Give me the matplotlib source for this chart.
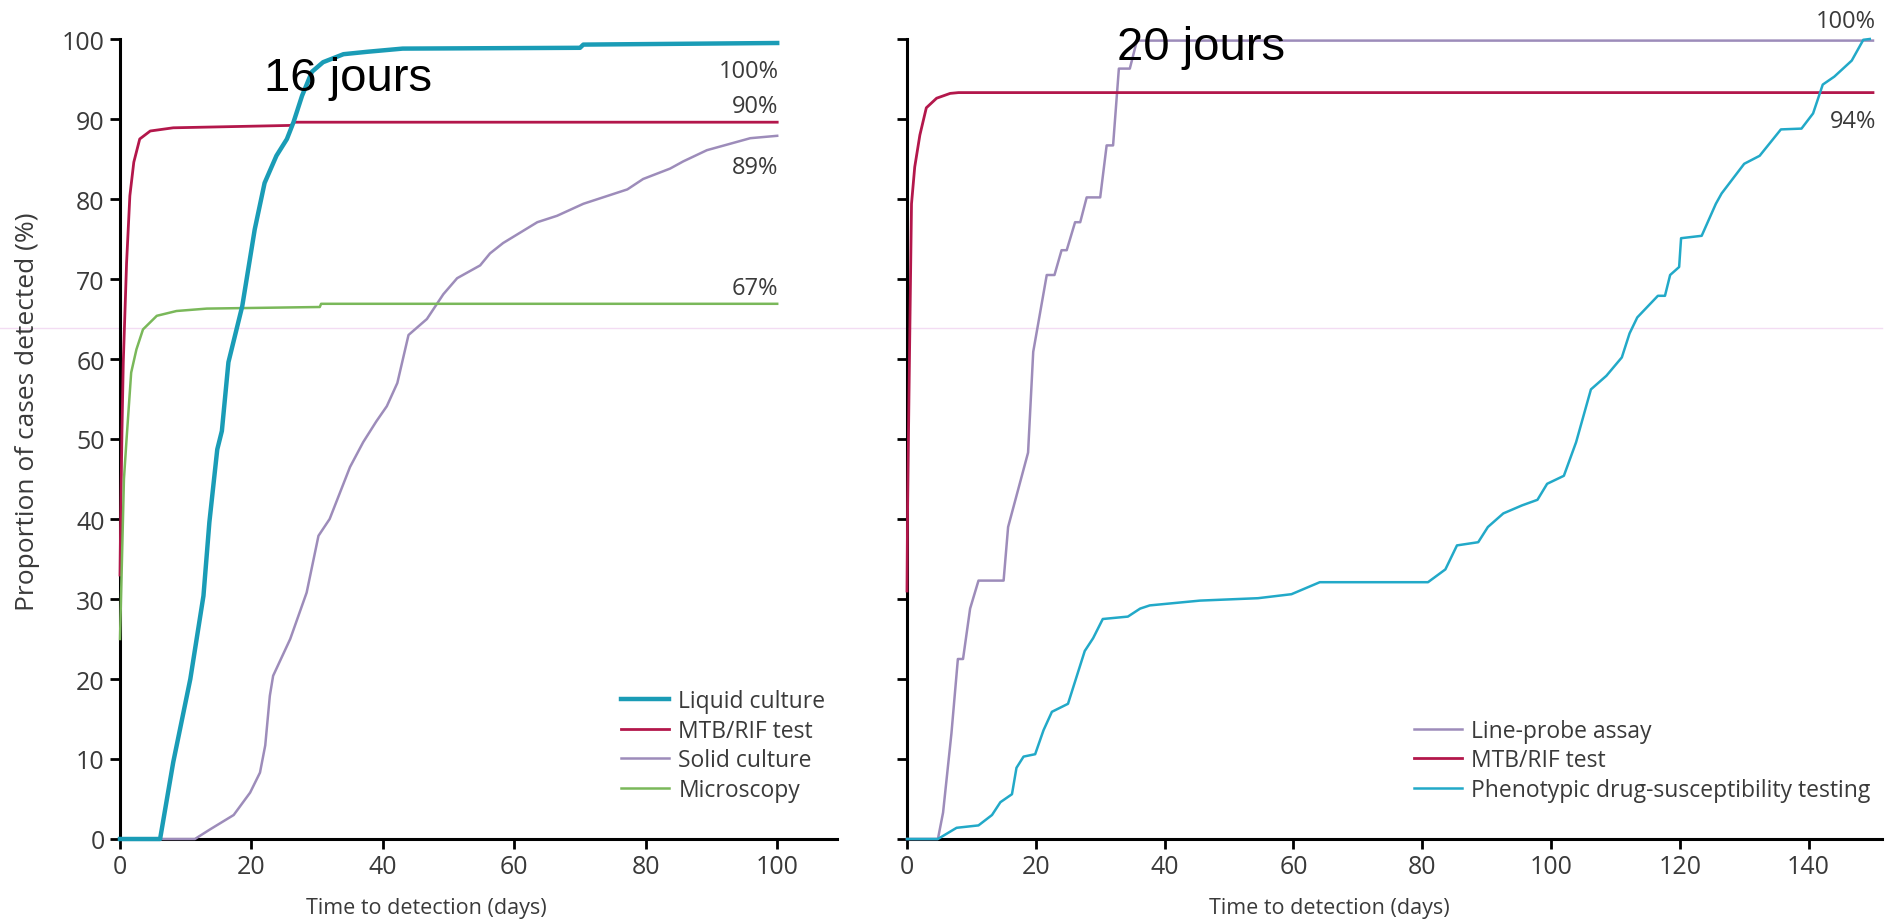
import matplotlib.pyplot as plt
from matplotlib.lines import Line2D

plt.rcParams['font.family'] = ['Open Sans', 'DejaVu Sans']

# --- left panel: detection of TB cases ---
liquid_days = [0, 6.1, 8.1, 10.7, 12.7, 13.6, 14.8, 15.5, 16.5, 18.6, 20.5, 22, 23.8, 25.4,
               26.4, 27.7, 29.2, 30.9, 34, 37.6, 43, 70, 70.5, 100]
liquid_pct = [0, 0, 9.6, 20, 30.4, 39.6, 48.7, 51, 59.6, 66.6, 76.2, 82, 85.4, 87.5,
              89.6, 92.9, 95.9, 97.1, 98.1, 98.4, 98.8, 98.9, 99.3, 99.5]

mtb_left_days = [0, 0.1, 0.3, 0.5, 1.0, 1.5, 2.1, 3.0, 4.6, 8.1, 26, 26.5, 100]
mtb_left_pct = [33, 40, 51, 59.6, 72, 80.4, 84.6, 87.5, 88.5, 88.9, 89.2, 89.6, 89.6]

solid_days = [0, 11.4, 13.7, 16.3, 17.3, 19.8, 21.3, 22.1, 22.8, 23.3, 25.9, 28.4, 30.2,
              31.9, 35, 37, 39, 40.6, 42.2, 43.9, 46.7, 49.2, 51.3, 54.8, 56.3, 58.3,
              63.5, 66.5, 70.5, 77.2, 79.6, 83.7, 85.7, 89.3, 95.9, 100]
solid_pct = [0, 0, 1.2, 2.5, 3, 5.8, 8.3, 11.7, 17.9, 20.4, 25, 30.8, 37.9,
             40, 46.5, 49.6, 52.2, 54.1, 57, 63, 65, 68.1, 70.1, 71.7, 73.2, 74.5,
             77.1, 77.9, 79.4, 81.2, 82.5, 83.8, 84.7, 86.1, 87.6, 87.9]

micro_days = [0, 0.3, 0.6, 1.0, 1.7, 2.5, 3.5, 5.6, 8.6, 13.2, 30.4, 30.6, 100]
micro_pct = [25, 35, 45, 50, 58.3, 61.2, 63.7, 65.4, 66.0, 66.3, 66.5, 66.9, 66.9]

left_end_labels = ['100%', '90%', '89%', '67%']
left_end_y = [96.0, 91.6, 84.0, 68.9]

# --- right panel: detection of rifampicin resistance ---
lpa_days = [0, 4.8, 5.6, 6.9, 7.9, 8.7, 9.8, 11.1, 15, 15.7, 18.8, 19.6, 21.7, 22.9,
            24, 24.8, 26.1, 26.9, 27.9, 30, 31, 32, 32.9, 34.6, 35.7, 150]
lpa_pct = [0, 0, 3.3, 13.2, 22.5, 22.5, 28.8, 32.3, 32.3, 39, 48.3, 60.9, 70.5, 70.5,
           73.6, 73.6, 77.1, 77.1, 80.2, 80.2, 86.7, 86.7, 96.3, 96.3, 99.8, 99.8]

mtb_right_days = [0, 0.1, 0.3, 0.7, 1.2, 2.0, 3.0, 4.6, 6.7, 8, 150]
mtb_right_pct = [31, 42, 55, 79.4, 84, 88, 91.4, 92.6, 93.2, 93.3, 93.3]

dst_days = [0, 4.8, 7.7, 11.1, 13.2, 14.5, 16.3, 17, 18.1, 19.9, 21.2, 22.5, 25, 26.3,
            27.6, 28.9, 30.4, 34.3, 36.2, 37.7, 45.5, 54.5, 59.7, 64.1, 80.9, 83.6,
            85.4, 88.7, 90.2, 92.6, 95.5, 97.9, 99.4, 102, 103.9, 106.2, 108.6, 111,
            112.2, 113.4, 116.6, 117.7, 118.5, 119.9, 120.2, 123.4, 125.6, 126.5, 130,
            132.4, 135.7, 138.9, 140.7, 142.2, 144, 146.7, 148.5, 149.5]
dst_pct = [0, 0, 1.4, 1.7, 3.0, 4.6, 5.6, 8.9, 10.3, 10.6, 13.6, 15.9, 16.9, 20.2,
           23.5, 25.1, 27.5, 27.8, 28.8, 29.2, 29.8, 30.1, 30.6, 32.1, 32.1, 33.7,
           36.7, 37.1, 39, 40.7, 41.7, 42.4, 44.4, 45.4, 49.6, 56.2, 57.9, 60.2,
           63.2, 65.2, 67.9, 67.9, 70.5, 71.5, 75.1, 75.4, 79.4, 80.7, 84.4,
           85.4, 88.7, 88.8, 90.7, 94.3, 95.3, 97.3, 99.9, 100]

right_end_labels = ['100%', '94%']
right_end_y = [102.3, 89.7]

TEAL = '#1a9cb6'
CYAN = '#22a9c8'
RED = '#b3174b'
LAV = '#9d8cba'
GREEN = '#7ab85a'
TXT = '#3a3a3a'

fig = plt.figure(figsize=(18.98, 9.2), dpi=100)
axL = fig.add_axes([120 / 1898, 80 / 920, 717 / 1898, 800 / 920])
axR = fig.add_axes([907 / 1898, 80 / 920, 975 / 1898, 800 / 920])

axL.plot(liquid_days, liquid_pct, color=TEAL, lw=3.2, label='Liquid culture', clip_on=False, zorder=4)
axL.plot(mtb_left_days, mtb_left_pct, color=RED, lw=2, label='MTB/RIF test', clip_on=False, zorder=3)
axL.plot(solid_days, solid_pct, color=LAV, lw=1.8, label='Solid culture', clip_on=False, zorder=3)
axL.plot(micro_days, micro_pct, color=GREEN, lw=1.8, label='Microscopy', clip_on=False, zorder=3)
axL.set_xlim(0, 109.1)
axL.set_xticks(range(0, 101, 20))
axL.set_yticks(range(0, 101, 10))
for lab, y in zip(left_end_labels, left_end_y):
    axL.text(100.2, y, lab, ha='right', va='center', fontsize=17, color=TXT)
axL.set_ylabel('Proportion of cases detected (%)', fontsize=19, color=TXT)
axL.yaxis.set_label_coords(-0.112, 0.535)
axL.text(34.7, 95.1, '16 jours', fontsize=34, family='Liberation Sans',
         ha='center', va='center', color='black', zorder=6)

axR.plot(lpa_days, lpa_pct, color=LAV, lw=1.8, label='Line-probe assay', clip_on=False, zorder=3)
axR.plot(mtb_right_days, mtb_right_pct, color=RED, lw=2, label='MTB/RIF test', clip_on=False, zorder=3)
axR.plot(dst_days, dst_pct, color=CYAN, lw=1.8, label='Phenotypic drug-susceptibility testing',
         clip_on=False, zorder=3)
axR.set_xlim(0, 151.4)
axR.set_xticks(range(0, 141, 20))
axR.set_yticks(range(0, 101, 10))
axR.set_yticklabels([])
for lab, y in zip(right_end_labels, right_end_y):
    axR.text(150.5, y, lab, ha='right', va='center', fontsize=17, color=TXT)
axR.text(45.7, 99, '20 jours', fontsize=34, family='Liberation Sans',
         ha='center', va='center', color='black', zorder=6)

for ax in (axL, axR):
    ax.set_ylim(0, 100)
    ax.set_facecolor('none')
    for s in ('top', 'right'):
        ax.spines[s].set_visible(False)
    for s in ('left', 'bottom'):
        ax.spines[s].set_linewidth(2.2)
    ax.tick_params(length=7, width=2, labelsize=18, labelcolor=TXT, pad=4)
    ax.set_xlabel('Time to detection (days)', fontsize=15.5, color=TXT)
    ax.legend(loc='lower right', bbox_to_anchor=(1.0, 0.032), frameon=False, fontsize=16.5,
              handlelength=2.1, labelspacing=0.24, handletextpad=0.4, borderpad=0,
              labelcolor=TXT)

axL.xaxis.set_label_coords(0.427, -0.072)
axR.xaxis.set_label_coords(0.433, -0.072)

# faint scan line running across the figure
fig.add_artist(Line2D([0, 1882 / 1898], [1 - 329 / 920] * 2, transform=fig.transFigure,
                      color='#f3dcf3', lw=1, zorder=-1))

fig.savefig('out.png', dpi=100, facecolor='white')
